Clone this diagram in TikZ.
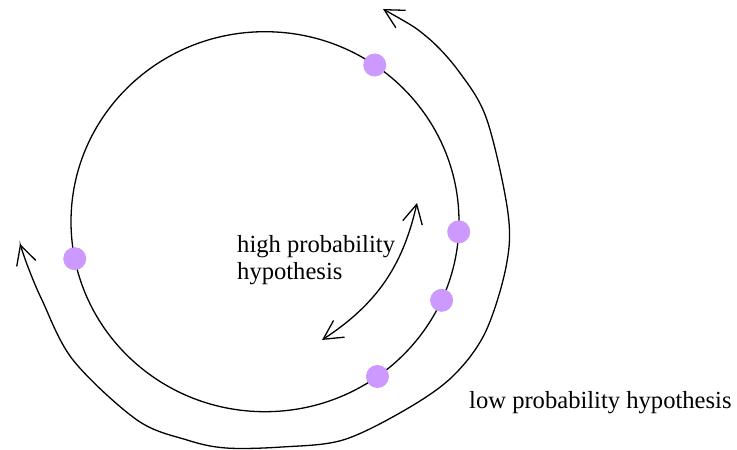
\documentclass[tikz,border=0pt]{standalone}
\usepackage{fontspec}
\setmainfont{Liberation Serif}
\usetikzlibrary{arrows.meta,shapes.geometric}
\definecolor{hypcol}{RGB}{204,153,255}

\begin{document}
\begin{tikzpicture}[
  x=1pt, y=1pt,
  ring/.style={draw, ellipse, line width=1.3pt, minimum width=388pt, minimum height=380pt, inner sep=0pt, outer sep=0pt},
  hyp/.style={circle, fill=hypcol, minimum size=23pt, inner sep=0pt},
  lbl/.style={font=\fontsize{24.6}{27}\selectfont, inner sep=0pt, align=left},
  arr/.style={line width=1.3pt, {Straight Barb[length=19pt,width=20pt]}-{Straight Barb[length=19pt,width=20pt]}}]
  \useasboundingbox (0,0) rectangle (737,450);
  \node[ring] (ring) at (265,228.3) {};
  \node[hyp] (h1) at (ring.55) {};
  \node[hyp] (h2) at (ring.-3) {};
  \node[hyp] (h3) at (ring.-24.6) {};
  \node[hyp] (h4) at (ring.-54.5) {};
  \node[hyp] (h5) at (ring.-169.4) {};
  \node[lbl, anchor=base west] (hitext) at (237,170) {high probability\\hypothesis};
  \node[lbl, anchor=base west] (lotext) at (469,41) {low probability hypothesis};
  \coordinate (hitop) at (417,247);
  \coordinate (hibot) at (322,110);
  \coordinate (lotop) at (383,441);
  \coordinate (loleft) at (20,206);
  \draw[arr] (hitop) to[bend left=22] (hibot);
  \draw[arr] plot[smooth, tension=0.55] coordinates {(lotop) (427,413) (460,377) (487,330) (508,237) (506,183) (485,117) (452,73) (405,40) (343,10) (282,3) (226,2) (187,10) (137,30) (73,90) (42,150) (28,183) (loleft)};
\end{tikzpicture}
\end{document}
